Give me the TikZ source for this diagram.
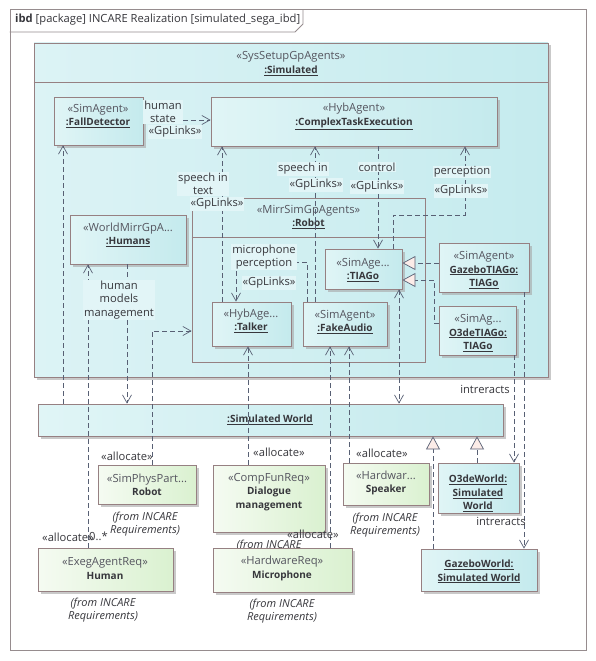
\documentclass[tikz,border=0pt]{standalone}
\usepackage{fontspec}
\setmainfont{Open Sans}
\usetikzlibrary{arrows.meta,fit,shadows}
\definecolor{bordc}{RGB}{150,128,130}
\definecolor{framec}{RGB}{150,140,142}
\definecolor{linec}{RGB}{88,96,116}
\definecolor{cyL}{RGB}{224,245,246}
\definecolor{cyR}{RGB}{196,234,237}
\definecolor{simL}{RGB}{220,243,245}
\definecolor{simR}{RGB}{197,235,238}
\definecolor{grL}{RGB}{245,251,242}
\definecolor{grR}{RGB}{218,241,208}
\definecolor{labbg}{RGB}{226,245,247}
\definecolor{genfill}{RGB}{252,236,232}
\definecolor{txtc}{RGB}{55,55,60}
\definecolor{stc}{RGB}{85,85,95}
\newcommand\bfn[1]{{\fontsize{10}{13.5}\selectfont\bfseries #1}}
\newcommand\ubn[1]{{\fontsize{10}{13.5}\selectfont\bfseries\underline{#1}}}
\newcommand\stt[1]{\textcolor{stc}{#1}}
\begin{document}
\begin{tikzpicture}[x=1pt,y=-1pt,
  font=\fontsize{11.2}{13.5}\selectfont, text=txtc,
  shd/.style={drop shadow={shadow xshift=2.5pt,shadow yshift=-2.5pt,fill=black!35,opacity=0.6}},
  cbox/.style={draw=bordc, line width=0.8pt, left color=cyL, right color=cyR, inner sep=0pt, shd},
  gbox/.style={draw=bordc, line width=0.8pt, left color=grL, right color=grR, inner sep=0pt, shd},
  txt/.style={align=center, inner sep=0pt},
  lab/.style={align=center, inner sep=1pt, fill=labbg},
  frm/.style={font=\fontsize{11}{13.5}\selectfont\itshape, align=center, inner sep=0pt},
  dep/.style={draw=linec, line width=0.7pt, dash pattern=on 5pt off 3pt, -{Straight Barb[length=8pt,width=9pt]}},
  bidep/.style={draw=linec, line width=0.7pt, dash pattern=on 5pt off 3pt, {Straight Barb[length=8pt,width=9pt]}-{Straight Barb[length=8pt,width=9pt]}},
  gen/.style={draw=linec, line width=0.7pt, dash pattern=on 5pt off 3pt, -{Triangle[length=13pt,width=14pt,fill=genfill]}}
]
\useasboundingbox (0,0) rectangle (596,661);
% frame
\node[fit={(10,10)(586,650)}, draw=framec, line width=1pt, inner sep=0pt,
  drop shadow={shadow xshift=1.2pt,shadow yshift=-1.2pt,fill=black!25,opacity=1}, fill=white] (frame) {};
\draw[framec, line width=0.8pt] (frame.west |- 0,32) -- (295,32) -- (303,24) -- (303,0 |- frame.north);
\node[anchor=west, inner sep=0pt] (title) at (15,20) {\textbf{ibd} [package] INCARE Realization [simulated\_sega\_ibd]};

% Simulated block
\node[draw=bordc, line width=0.8pt, left color=simL, right color=simR, inner sep=0pt, shd, fit={(34,43)(548,377)}] (sim) {};
\draw[bordc, line width=0.8pt] (sim.west |- 0,82) -- (sim.east |- 0,82);
\node[txt] (simT) at (291,63.5) {\stt{«SysSetupGpAgents»}\\\ubn{:Simulated}};

% inner boxes
\node[cbox, fit={(54,97)(143,145)}] (fd) {};
\node[txt] at (98,116) {\stt{«SimAgent»}\\\ubn{:FallDetector}};
\node[cbox, fit={(211,97)(497,146)}] (cte) {};
\node[txt] at (354,116.5) {\stt{«HybAgent»}\\\ubn{:ComplexTaskExecution}};
\node[draw=bordc, line width=0.8pt, inner sep=0pt, fit={(192,198)(425,362)}] (robot) {};
\draw[bordc, line width=0.8pt] (robot.west |- 0,237) -- (robot.east |- 0,237);
\node[txt] at (308.5,217) {\stt{«MirrSimGpAgents»}\\\ubn{:Robot}};
\node[cbox, fit={(70,215)(186,264)}] (humans) {};
\node[txt] at (128,235) {\stt{«WorldMirrGpA...}\\\ubn{:Humans}};
\node[cbox, fit={(325,249)(402,289)}] (tiago) {};
\node[txt] at (363,270) {\stt{«SimAge...}\\\ubn{:TIAGo}};
\node[cbox, fit={(439,243)(529,292)}] (gtiago) {};
\node[txt] at (484,270) {\stt{«SimAgent»}\\\ubn{GazeboTIAGo:}\\\ubn{TIAGo}};
\node[cbox, fit={(439,306)(516,355)}] (otiago) {};
\node[txt] at (478,333) {\stt{«SimAg...}\\\ubn{O3deTIAGo:}\\\ubn{TIAGo}};
\node[cbox, fit={(212,302)(291,346)}] (talker) {};
\node[txt] at (251,321) {\stt{«HybAge...}\\\ubn{:Talker}};
\node[cbox, fit={(303,302)(387,346)}] (fake) {};
\node[txt] at (345,322) {\stt{«SimAgent»}\\\ubn{:FakeAudio}};

% lower boxes
\node[cbox, fit={(38,404)(503,436)}] (sw) {};
\node[txt] at (270,420) {\ubn{:Simulated World}};
\node[gbox, fit={(98,465)(196,504)}] (simphys) {};
\node[txt] at (147,485) {\stt{«SimPhysPart...}\\\bfn{Robot}};
\node[frm] at (145,524) {(from INCARE\\Requirements)};
\node[gbox, fit={(213,465)(325,532)}] (dial) {};
\node[txt] at (269,492) {\stt{«CompFunReq»}\\\bfn{Dialogue}\\\bfn{management}};
\node[frm] at (269,552) {(from INCARE\\Requirements)};
\node[gbox, fit={(343,463)(429,505)}] (spk) {};
\node[txt] at (386,483) {\stt{«Hardwar...}\\\bfn{Speaker}};
\node[frm] at (385,525) {(from INCARE\\Requirements)};
\node[cbox, fit={(438,463)(519,513)}] (o3w) {};
\node[txt] at (478,493.5) {\ubn{O3deWorld:}\\\ubn{Simulated}\\\ubn{World}};
\node[cbox, fit={(421,549)(537,591)}] (gzw) {};
\node[txt] at (479,571.5) {\ubn{GazeboWorld:}\\\ubn{Simulated World}};
\node[gbox, fit={(38,548)(173,591)}] (human) {};
\node[txt] at (105,568.5) {\stt{«ExegAgentReq»}\\\bfn{Human}};
\node[frm] at (103,610) {(from INCARE\\Requirements)};
\node[gbox, fit={(213,548)(352,592)}] (mic) {};
\node[txt] at (282,568.5) {\stt{«HardwareReq»}\\\bfn{Microphone}};
\node[frm] at (282,611) {(from INCARE\\Requirements)};

% connectors
\draw[dep] (fd.east |- 0,120) -- (cte.west |- 0,120);
\draw[dep] (63,0 |- sw.north) -- (63,0 |- fd.south);
\draw[dep] (88,0 |- human.north) -- (88,0 |- humans.south);
\draw[dep] (127,0 |- humans.south) -- (127,0 |- sw.north);
\draw[dep] (152,0 |- simphys.north) |- (robot.west |- 0,331);
\draw[dep] (248,0 |- dial.north) -- (248,0 |- talker.south);
\draw[dep] (330,0 |- mic.north) -- (330,0 |- fake.south);
\draw[dep] (349,0 |- spk.north) -- (349,0 |- fake.south);
\draw[bidep] (399,0 |- tiago.south) -- (399,0 |- sw.north);
\draw[gen] (gtiago.west |- 0,263) -- (tiago.east |- 0,263);
\draw[gen] (otiago.west |- 0,323) -| (434,280) -- (tiago.east |- 0,280);
\draw[dep] (524,0 |- gtiago.south) -- (524,0 |- gzw.north);
\draw[dep] (514,0 |- otiago.south) -- (514,0 |- o3w.north);
\draw[gen] (477,0 |- o3w.north) -- (477,0 |- sw.south);
\draw[gen] (433,0 |- gzw.north) -- (433,0 |- sw.south);
\draw[dep] (222,0 |- talker.north) -- (222,0 |- cte.south);
\draw[dep] (315,0 |- fake.north) -- (315,0 |- cte.south);
\draw[dep] (378,0 |- cte.south) -- (378,0 |- tiago.north);
\draw[dep] (393,0 |- tiago.north) |- (465,215) -- (465,0 |- cte.south);
\draw[dep] (307,0 |- fake.north) |- (236,262) -- (236,0 |- talker.north);

% connector labels
\node[lab] (l1a) at (163,112) {human\\state};
\node[lab] (l1b) at (175,132) {«GpLinks»};
\node[lab] (l16a) at (203,184) {speech in\\text};
\node[lab] (l16b) at (217,204) {«GpLinks»};
\node[lab] (l17a) at (303,169) {speech in};
\node[lab] (l17b) at (316,185) {«GpLinks»};
\node[lab] (l18a) at (377,167) {control};
\node[lab] (l18b) at (377,187) {«GpLinks»};
\node[lab] (l19a) at (462,172) {perception};
\node[lab] (l19b) at (461,191) {«GpLinks»};
\node[lab] (l20a) at (264,257) {microphone\\perception};
\node[lab] (l20b) at (269,283) {«GpLinks»};
\node[lab] (l4) at (119,300) {human\\models\\management};
\node[txt] (a1) at (127,456) {«allocate»};
\node[txt] (a2) at (279,452) {«allocate»};
\node[txt] (a3) at (382,453) {«allocate»};
\node[txt] (a4) at (313,534) {«allocate»};
\node[txt] (a5) at (68,537) {«allocate»};
\node[txt, anchor=west] (m5) at (89,536) {0..*};
\node[txt] (i1) at (485,389) {intreracts};
\node[txt] (i2) at (501,521) {intreracts};
\end{tikzpicture}
\end{document}
